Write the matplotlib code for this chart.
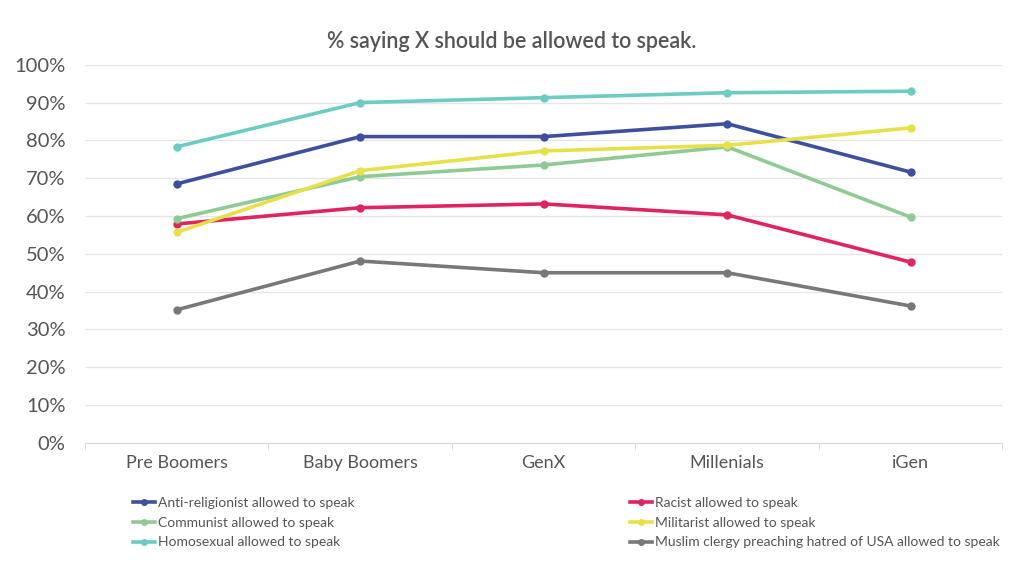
import numpy as np
import matplotlib.pyplot as plt

generations = ['Pre Boomers', 'Baby Boomers', 'GenX', 'Millenials', 'iGen']

anti_religionist = [68.5, 81.0, 81.0, 84.4, 71.6]
racist = [57.9, 62.2, 63.2, 60.3, 47.8]
communist = [59.3, 70.4, 73.5, 78.3, 59.7]
militarist = [55.7, 72.0, 77.2, 78.7, 83.3]
homosexual = [78.3, 90.0, 91.3, 92.6, 93.0]
muslim_clergy = [35.2, 48.1, 45.0, 45.0, 36.2]

series = [
    ('Anti-religionist allowed to speak', anti_religionist, '#3d4f9f'),
    ('Racist allowed to speak', racist, '#e0245e'),
    ('Communist allowed to speak', communist, '#8ecb92'),
    ('Militarist allowed to speak', militarist, '#e8e04b'),
    ('Homosexual allowed to speak', homosexual, '#6ccbc3'),
    ('Muslim clergy preaching hatred of USA allowed to speak', muslim_clergy, '#787878'),
]

plt.rcParams['font.family'] = ['Lato', 'DejaVu Sans']

fig = plt.figure(figsize=(10.24, 5.73), dpi=100)
ax = fig.add_axes([0.083, 0.227, 0.896, 0.66])

x = np.arange(len(generations))
handles = {}
for name, vals, col in series:
    h, = ax.plot(x, vals, '-o', color=col, lw=2.6, ms=5, label=name)
    handles[name] = h

ax.set_xlim(-0.5, 4.5)
ax.set_ylim(0, 100)
ax.set_yticks(np.arange(0, 101, 10))
ax.set_yticklabels([f'{v}%' for v in range(0, 101, 10)], fontsize=14.5, color='#555555')
ax.set_xticks(x)
ax.set_xticklabels(generations, fontsize=13, color='#555555')
ax.set_xticks(np.arange(-0.5, 5, 1), minor=True)
ax.tick_params(axis='x', which='major', length=0, pad=9)
ax.tick_params(axis='x', which='minor', length=5, color='#d9d9d9', direction='out')
ax.tick_params(axis='y', length=0, pad=14)
ax.grid(axis='y', color='#e6e6e6', lw=1)
ax.set_axisbelow(True)
for s in ['top', 'right', 'left']:
    ax.spines[s].set_visible(False)
ax.spines['bottom'].set_color('#d9d9d9')

fig.text(0.5, 0.917, '% saying X should be allowed to speak.', ha='center',
         fontsize=15.5, color='#555555', fontweight='semibold')

left_names = [series[0][0], series[2][0], series[4][0]]
right_names = [series[1][0], series[3][0], series[5][0]]
for names, xpos in [(left_names, 0.124), (right_names, 0.610)]:
    leg = fig.legend([handles[n] for n in names], names, loc='upper left',
                     bbox_to_anchor=(xpos, 0.142), frameon=False, fontsize=10,
                     handlelength=1.6, handletextpad=0.2, labelspacing=0.55,
                     borderaxespad=0, markerscale=0.8)
    for t in leg.get_texts():
        t.set_color('#555555')

fig.savefig('out.png', dpi=100, facecolor='white')
